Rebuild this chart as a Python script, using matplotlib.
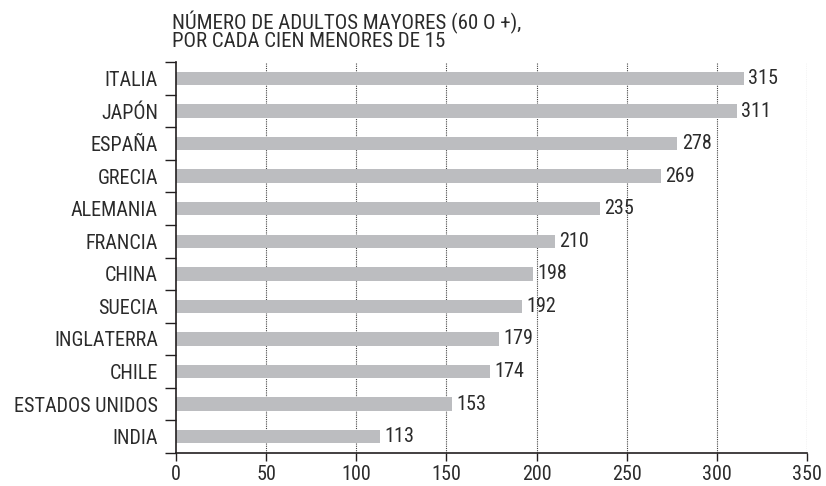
import matplotlib.pyplot as plt

paises = ["ITALIA", "JAPÓN", "ESPAÑA", "GRECIA", "ALEMANIA", "FRANCIA", "CHINA",
          "SUECIA", "INGLATERRA", "CHILE", "ESTADOS UNIDOS", "INDIA"]
valores = [315, 311, 278, 269, 235, 210, 198, 192, 179, 174, 153, 113]
xticks = [0, 50, 100, 150, 200, 250, 300, 350]

plt.rcParams['font.family'] = ['Roboto Condensed', 'Archivo Narrow', 'DejaVu Sans']

fig = plt.figure(figsize=(8.26, 4.86), dpi=100)
ax = fig.add_axes([0.213, 0.068, 0.764, 0.804])

n = len(paises)
pos = list(range(n))[::-1]
ax.barh(pos, valores, height=0.41, color="#bcbdc0", zorder=2)
for p, v in zip(pos, valores):
    ax.text(v + 2.5, p, str(v), va="center", ha="left", fontsize=14.5, color="#2b2b2b")

ax.set_xlim(0, 350)
ax.set_ylim(-0.5, n - 0.5)
ax.set_xticks(xticks)
ax.set_xticklabels([str(t) for t in xticks], fontsize=14.5, color="#2b2b2b")
for t in xticks[1:]:
    ax.axvline(t, color="#444444", lw=0.8, ls=(0, (1, 1)), zorder=1)

ax.set_yticks([i - 0.5 for i in range(n + 1)])
ax.set_yticklabels([])
ax.set_yticks(pos, minor=True)
ax.set_yticklabels(paises, minor=True, fontsize=14.5, color="#2b2b2b")
ax.tick_params(axis="y", which="major", length=8, width=1, color="#231f20")
ax.tick_params(axis="y", which="minor", length=0, pad=13)
ax.tick_params(axis="x", length=6, width=1, color="#231f20", pad=3)

for s in ["top", "right"]:
    ax.spines[s].set_visible(False)
for s in ["left", "bottom"]:
    ax.spines[s].set_color("#231f20")
    ax.spines[s].set_linewidth(1.2)

fig.text(0.208, 1 - 47 / 486, "NÚMERO DE ADULTOS MAYORES (60 O +),\nPOR CADA CIEN MENORES DE 15",
         ha="left", va="baseline", fontsize=15, color="#2b2b2b", linespacing=0.88)

fig.savefig("out.png", dpi=100)
